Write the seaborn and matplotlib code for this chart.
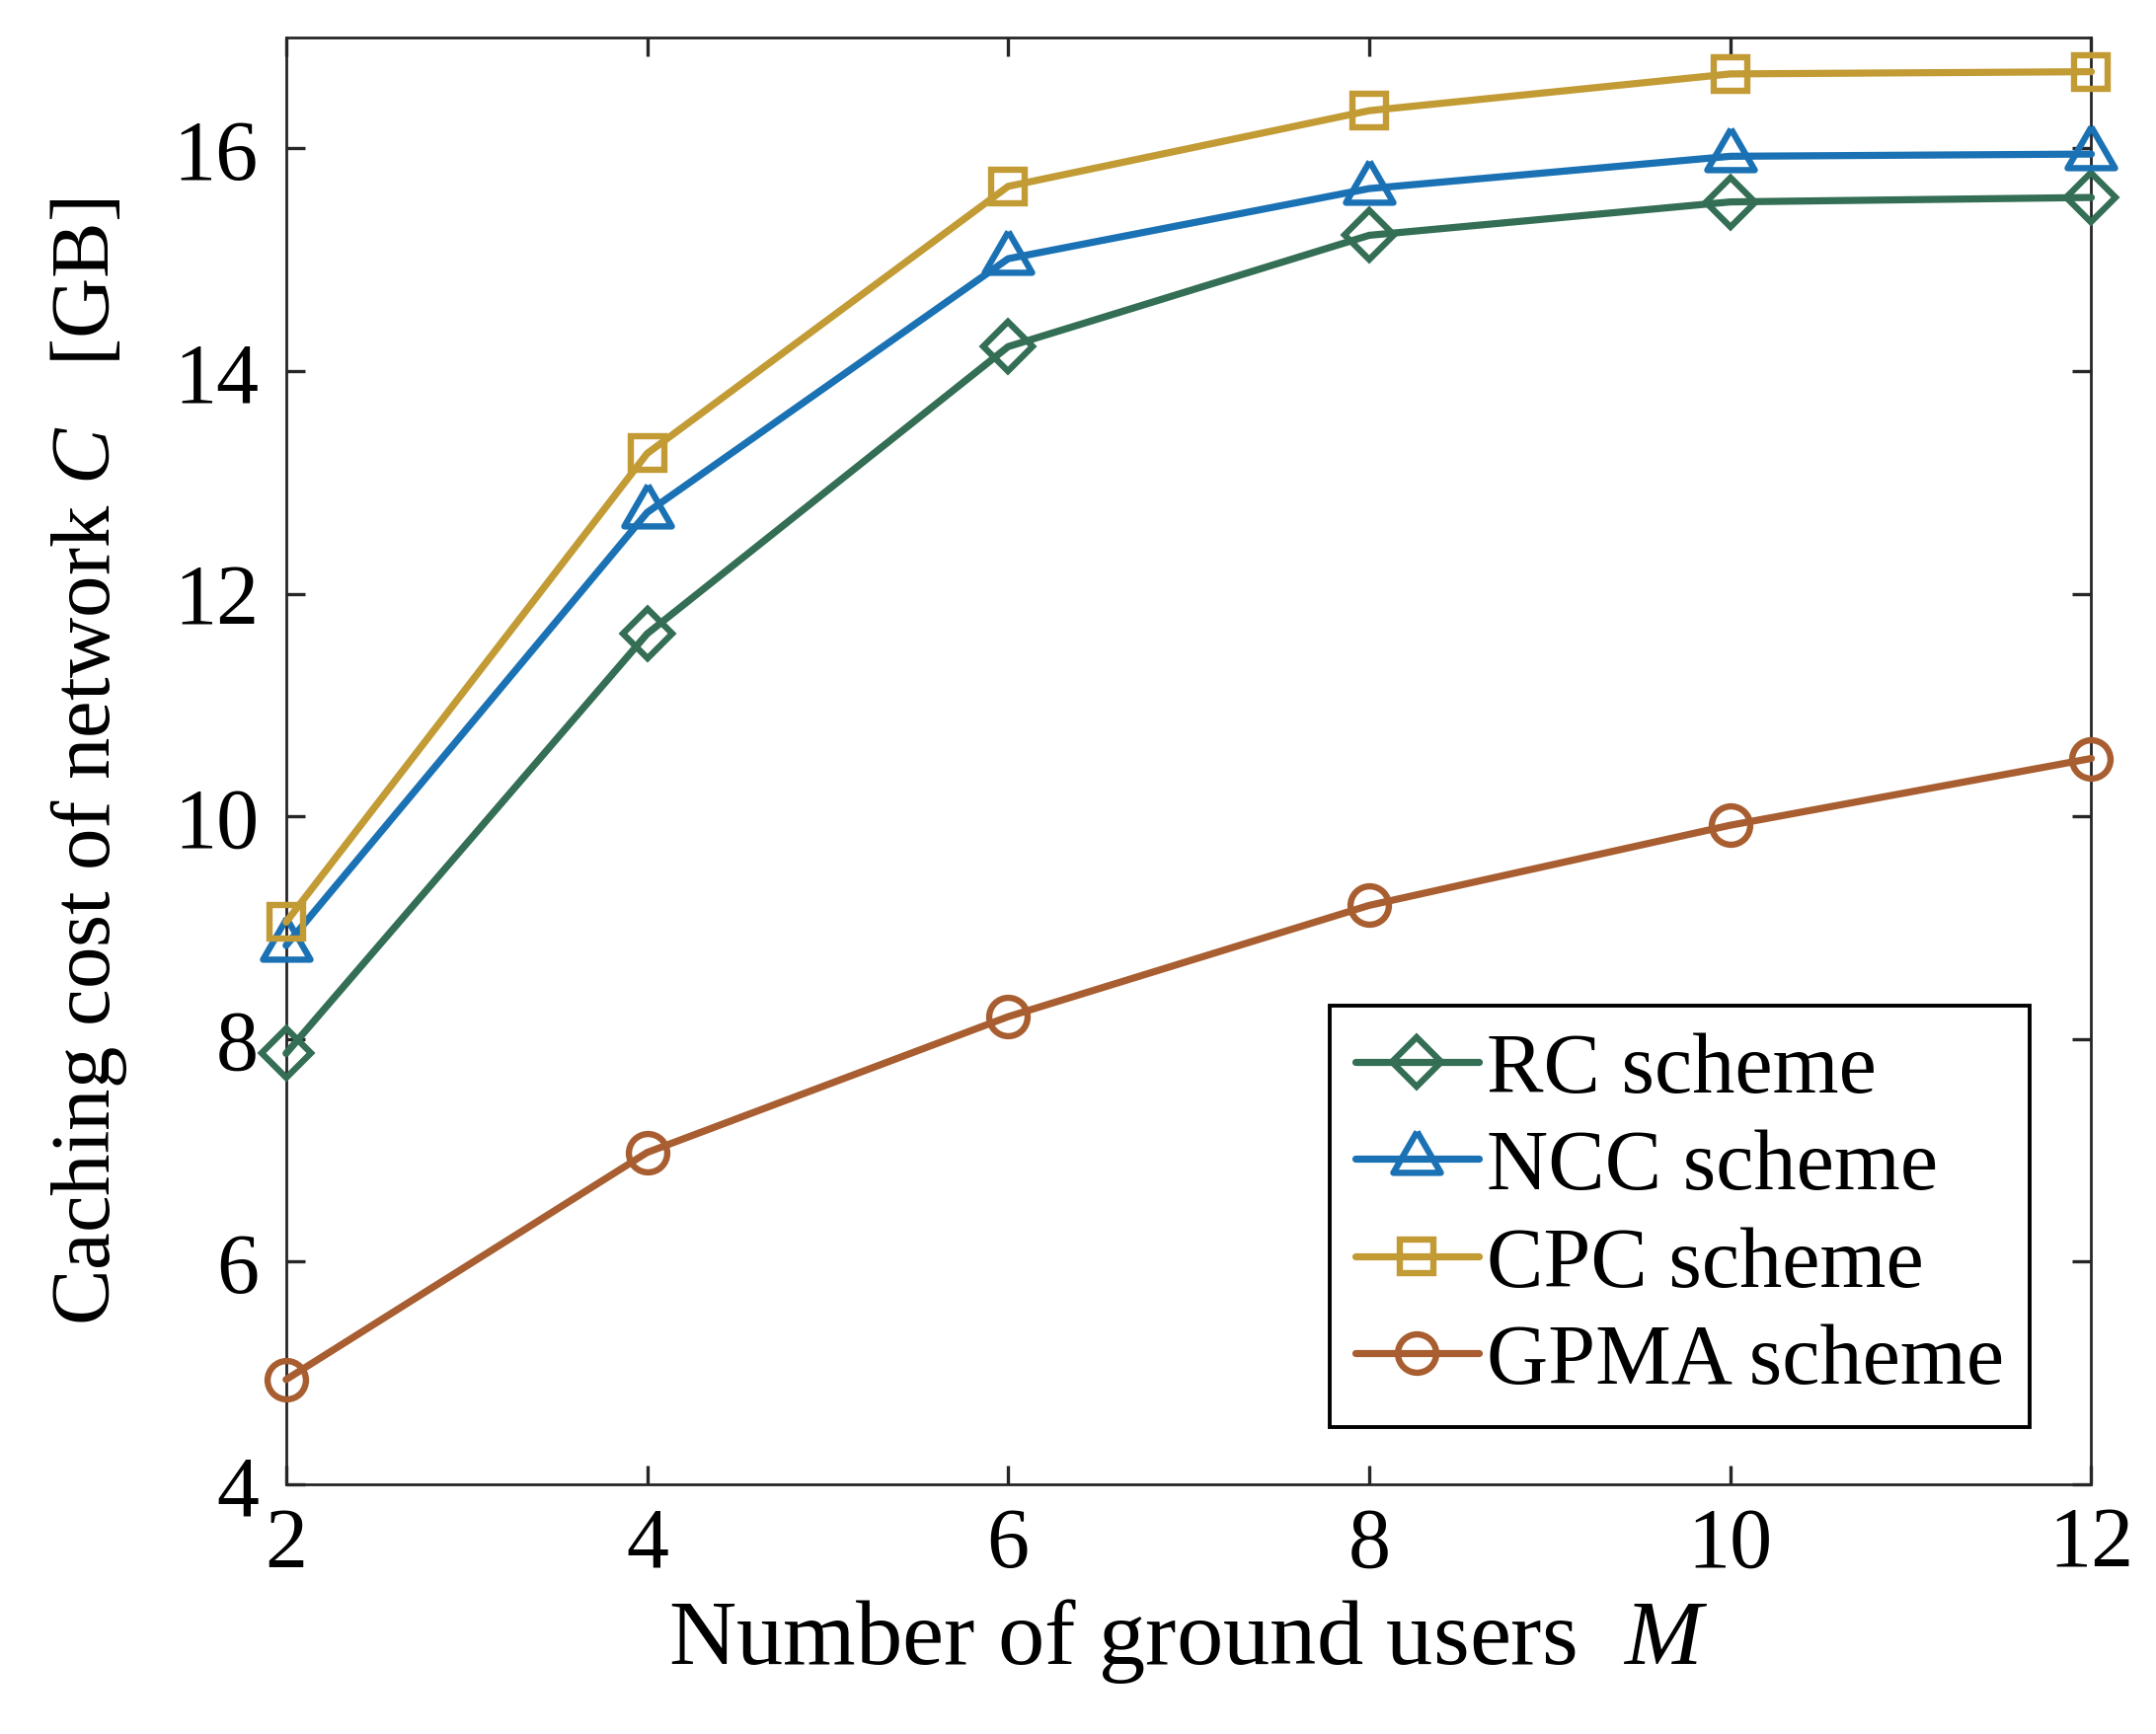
import numpy as np
import pandas as pd
import matplotlib
matplotlib.use('Agg')
import matplotlib.pyplot as plt
import seaborn as sns

# data
users = [2, 4, 6, 8, 10, 12]
rc_cost = [7.87, 11.64, 14.22, 15.22, 15.52, 15.56]
ncc_cost = [8.84, 12.73, 15.01, 15.64, 15.93, 15.95]
cpc_cost = [9.05, 13.26, 15.66, 16.34, 16.67, 16.69]
gpma_cost = [4.94, 6.98, 8.20, 9.20, 9.92, 10.52]

schemes = ['RC scheme', 'NCC scheme', 'CPC scheme', 'GPMA scheme']
colors = ['#336E55', '#1A72B4', '#C29B35', '#A85E30']
# MATLAB-like triangle: line passes through the centroid
tri = [(0, 1), (-0.866, -0.5), (0.866, -0.5), (0, 1)]
markers = ['D', tri, 's', 'o']
msizes = [12.5, 20, 12, 14]

sns.set_theme(style='ticks')
plt.rcParams.update({
    'font.family': ['Liberation Serif', 'DejaVu Serif'],
    'mathtext.fontset': 'custom',
    'mathtext.rm': 'Liberation Serif',
    'mathtext.it': 'Liberation Serif:italic',
    'text.color': 'black',
    'axes.labelcolor': 'black',
    'axes.edgecolor': '#262626',
    'axes.linewidth': 1.0,
})

fig = plt.figure(figsize=(10.92, 8.79), dpi=200)
ax = fig.add_axes([0.1327, 0.144, 0.8373, 0.834])

series = [rc_cost, ncc_cost, cpc_cost, gpma_cost]
for name, vals, c, m, ms in zip(schemes, series, colors, markers, msizes):
    sns.lineplot(x=users, y=vals, ax=ax, color=c, marker=m, markersize=ms,
                 mfc='none', mec=c, mew=2.3, linewidth=2.6, label=name,
                 clip_on=False, zorder=3)

ax.set_xlim(2, 12)
ax.set_ylim(4, 17)
ax.set_xticks([2, 4, 6, 8, 10, 12])
ax.set_yticks([4, 6, 8, 10, 12, 14, 16])
ax.tick_params(direction='in', length=7, width=1.2, color='#262626',
               labelsize=31, top=True, right=True, labelcolor='black')
ax.tick_params(axis='y', pad=10)
ax.tick_params(axis='x', pad=8)
for s in ax.spines.values():
    s.set_visible(True)
    s.set_color('#262626')
    s.set_zorder(2)

ax.set_xlabel('Number of ground users  $M$', fontsize=34, labelpad=4)
ax.set_ylabel('Caching cost of network $C$   [GB]', fontsize=30.5, labelpad=16)

leg = ax.legend(loc='lower right', bbox_to_anchor=(0.966, 0.0395), fontsize=31,
                frameon=True, fancybox=False, edgecolor='black', framealpha=1,
                handlelength=1.45, handletextpad=0.1, labelspacing=0.22,
                borderpad=0.3, borderaxespad=0)
leg.get_frame().set_linewidth(1.4)
for t in leg.get_texts():
    t.set_color('black')

fig.savefig('out.png', dpi=200)
